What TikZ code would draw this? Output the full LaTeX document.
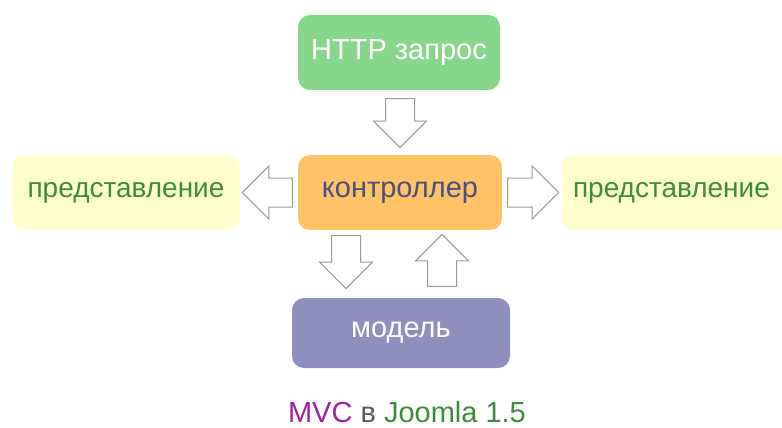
\documentclass[tikz,border=0pt]{standalone}
\usepackage{fontspec}
\setmainfont{Liberation Sans}
\usetikzlibrary{shapes.arrows,calc}
\definecolor{httpgreen}{HTML}{88D68A}
\definecolor{ctrlorange}{HTML}{FFC266}
\definecolor{viewyellow}{HTML}{FFFFCC}
\definecolor{viewtext}{HTML}{3C8C3C}
\definecolor{ctrltext}{HTML}{4A5080}
\definecolor{modelblue}{HTML}{8F8FBF}
\definecolor{arrowgray}{HTML}{9A9A9A}
\definecolor{mvcpurple}{HTML}{A020A0}
\tikzset{
  box/.style={rounded corners=12pt, minimum height=75pt, inner sep=0pt, font=\fontsize{29}{32}\selectfont},
  blockarrow/.style={single arrow, draw=arrowgray, fill=white, line width=1pt, anchor=tail,
    minimum height=50pt, inner xsep=0pt, inner ysep=14pt, single arrow head extend=12pt}
}
\begin{document}
\begin{tikzpicture}[x=1pt,y=-1pt]
	\useasboundingbox (0,0) rectangle (782,428);
	\clip (0,0) rectangle (782,428);
	% boxes
	\node[box, fill=httpgreen, text=white, minimum width=202pt] (http) at (399,52.5) {HTTP запрос};
	\node[box, fill=ctrlorange, text=ctrltext, minimum width=204pt] (ctrl) at (400,192.5) {контроллер};
	\node[box, fill=viewyellow, text=viewtext, minimum width=228pt, font=\fontsize{28}{31}\selectfont] (viewL) at (126,192.5) {представление};
	\node[box, fill=viewyellow, text=viewtext, minimum width=240pt, text width=218pt, align=left, font=\fontsize{28}{31}\selectfont] (viewR) at (682,192.5) {представление};
	\node[box, fill=modelblue, text=white, minimum width=218pt, minimum height=70pt] (model) at (401,333) {модель};
	% arrows
	\node[blockarrow, rotate=-90, minimum height=49pt] (a1) at ($(http.south)+(1,8)$) {};
	\node[blockarrow, rotate=180] (a2) at ($(ctrl.west)+(-5,0)$) {};
	\node[blockarrow, minimum height=51pt] (a3) at ($(ctrl.east)+(5,0)$) {};
	\node[blockarrow, rotate=-90, minimum height=53pt] (a4) at ($(ctrl.south)+(-54,5)$) {};
	\node[blockarrow, rotate=90, minimum height=52pt] (a5) at ($(model.north)+(41,-11)$) {};
	% caption
	\node[font=\fontsize{29}{32}\selectfont] (cap) at (407,412) {\textcolor{mvcpurple}{MVC} \textcolor{black!65}{в} \textcolor{viewtext}{Joomla 1.5}};
\end{tikzpicture}
\end{document}
